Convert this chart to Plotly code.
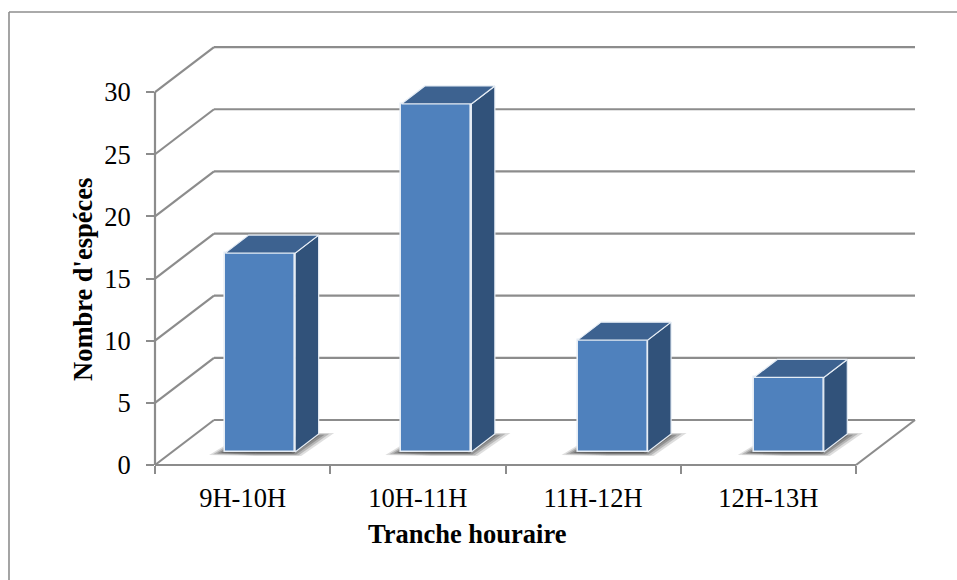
import plotly.graph_objects as go

categories = ["9H-10H", "10H-11H", "11H-12H", "12H-13H"]
especes = [16, 28, 9, 6]
y_ticks = [0, 5, 10, 15, 20, 25, 30]

FONT = "Liberation Serif"
GRID = "#8c8c8c"
FRONT = "#4f81bd"
TOP = "#3d6290"
SIDE = "#31527a"

# pixel geometry of the oblique projection
PX_X = 175.25          # px per category
PX_Y = 12.43           # px per unit
L, R, T, B = 155, 916, 47, 465
dx = 59 / PX_X         # wall depth
dy = 45 / PX_Y
bar_w = 70 / PX_X
bar_dx = 23.5 / PX_X   # bar depth
bar_dy = 18 / PX_Y
base = 13 / PX_Y       # front of bar above the floor edge
n = len(categories)
x_max = (R - L) / PX_X
y_max = (B - T) / PX_Y


def bar_center(i):
    return i + 0.6 + 0.0055 * i


def path(pts):
    return "M " + " L ".join(f"{x},{y}" for x, y in pts) + " Z"


def line_shape(x0, y0, x1, y1, width=2.2):
    # paper references so that lines on the plot edge are not clipped in half
    return dict(type="line", xref="paper", yref="paper",
                x0=x0 / x_max, y0=y0 / y_max, x1=x1 / x_max, y1=y1 / y_max,
                layer="below", line=dict(color=GRID, width=width))


shapes = []
# back-wall gridlines and the oblique lines on the side wall
for v in y_ticks:
    shapes.append(line_shape(dx, v + dy, n + dx, v + dy))
    shapes.append(line_shape(0, v, dx, v + dy))
# left wall axis, floor front edge and floor right edge
shapes.append(line_shape(0, 0, 0, y_ticks[-1]))
shapes.append(line_shape(0, 0, n, 0))
shapes.append(line_shape(n, 0, n + dx, dy))

# soft shadows on the floor, under every bar
shadow_layers = [(1.0, 0.18), (0.93, 0.26), (0.86, 0.34), (0.79, 0.42), (0.72, 0.5)]
shadow_shape = [(-16, -3), (2, 8), (94, 19), (109, 19), (76, -4), (30, -4)]
for i in range(n):
    x0 = bar_center(i) - bar_w / 2
    cx, cy = 40, 7
    for scale, alpha in shadow_layers:
        pts = [(x0 + (cx + (px - cx) * scale) / PX_X,
                base + (cy + (py - cy) * scale) / PX_Y) for px, py in shadow_shape]
        shapes.append(dict(type="path", xref="x", yref="y", path=path(pts), layer="below",
                           fillcolor=f"rgba(70,70,70,{alpha})", line=dict(width=0)))

# outer frame of the chart (left and top borders)
fx = lambda p: (p - L) / (R - L)
fy = lambda p: (B - p) / (B - T)
for x0, y0, x1, y1 in [(9, 12, 960, 12), (9, 12, 9, 585)]:
    shapes.append(dict(type="line", xref="paper", yref="paper", x0=fx(x0), y0=fy(y0),
                       x1=fx(x1), y1=fy(y1), layer="below",
                       line=dict(color="#8e8e8e", width=1.6)))

fig = go.Figure()
fig.add_trace(go.Bar(
    x=[bar_center(i) for i in range(n)], y=especes, base=[base] * n, width=bar_w,
    marker=dict(color=FRONT, line=dict(color="#e6edf5", width=1.6)),
    showlegend=False, hoverinfo="skip"))

for i, v in enumerate(especes):
    x0 = bar_center(i) - bar_w / 2
    x1 = x0 + bar_w
    top = base + v
    # side face
    fig.add_trace(go.Scatter(
        x=[x1, x1 + bar_dx, x1 + bar_dx, x1, x1],
        y=[base, base + bar_dy, top + bar_dy, top, base],
        mode="lines", fill="toself", fillcolor=SIDE,
        line=dict(color="#e6edf5", width=1.2), showlegend=False, hoverinfo="skip"))
    # top face
    fig.add_trace(go.Scatter(
        x=[x0, x0 + bar_dx, x1 + bar_dx, x1, x0],
        y=[top, top + bar_dy, top + bar_dy, top, top],
        mode="lines", fill="toself", fillcolor=TOP,
        line=dict(color="#e6edf5", width=1.2), showlegend=False, hoverinfo="skip"))

fig.update_layout(
    width=957, height=580, autosize=False,
    margin=dict(l=L, r=957 - R, t=T, b=580 - B),
    paper_bgcolor="white", plot_bgcolor="rgba(0,0,0,0)",
    font=dict(family=FONT, color="black", size=26.5),
    shapes=shapes,
    bargap=0,
    xaxis=dict(
        range=[0, x_max], tickmode="array",
        tickvals=[i + 0.5 for i in range(n)], ticktext=categories,
        ticks="", showgrid=False, zeroline=False, showline=False,
        ticklabelstandoff=14, automargin=False,
        tickfont=dict(family=FONT, size=26.5),
        minor=dict(tickmode="array", tickvals=list(range(n + 1)), ticks="outside",
                   ticklen=8, tickwidth=2, tickcolor=GRID, showgrid=False),
    ),
    yaxis=dict(
        range=[0, y_max], tickmode="array", tickvals=y_ticks,
        ticks="outside", ticklen=8, tickwidth=2, tickcolor=GRID,
        showgrid=False, zeroline=False, showline=False,
        ticklabelstandoff=10, automargin=False,
        tickfont=dict(family=FONT, size=26.5),
    ),
    annotations=[
        dict(text="<b>Tranche houraire</b>", xref="paper", yref="paper",
             x=fx(467.5), y=fy(534), xanchor="center", yanchor="middle", showarrow=False,
             font=dict(family=FONT, size=26.5)),
        dict(text="<b>Nombre d'espéces</b>", xref="paper", yref="paper",
             x=fx(83), y=fy(280), xanchor="center", yanchor="middle", showarrow=False,
             textangle=-90, font=dict(family=FONT, size=26.5)),
    ],
)

fig.write_html("out.html", config={"displayModeBar": False},
               post_script="document.body.style.margin='0';document.body.style.overflow='hidden';")
